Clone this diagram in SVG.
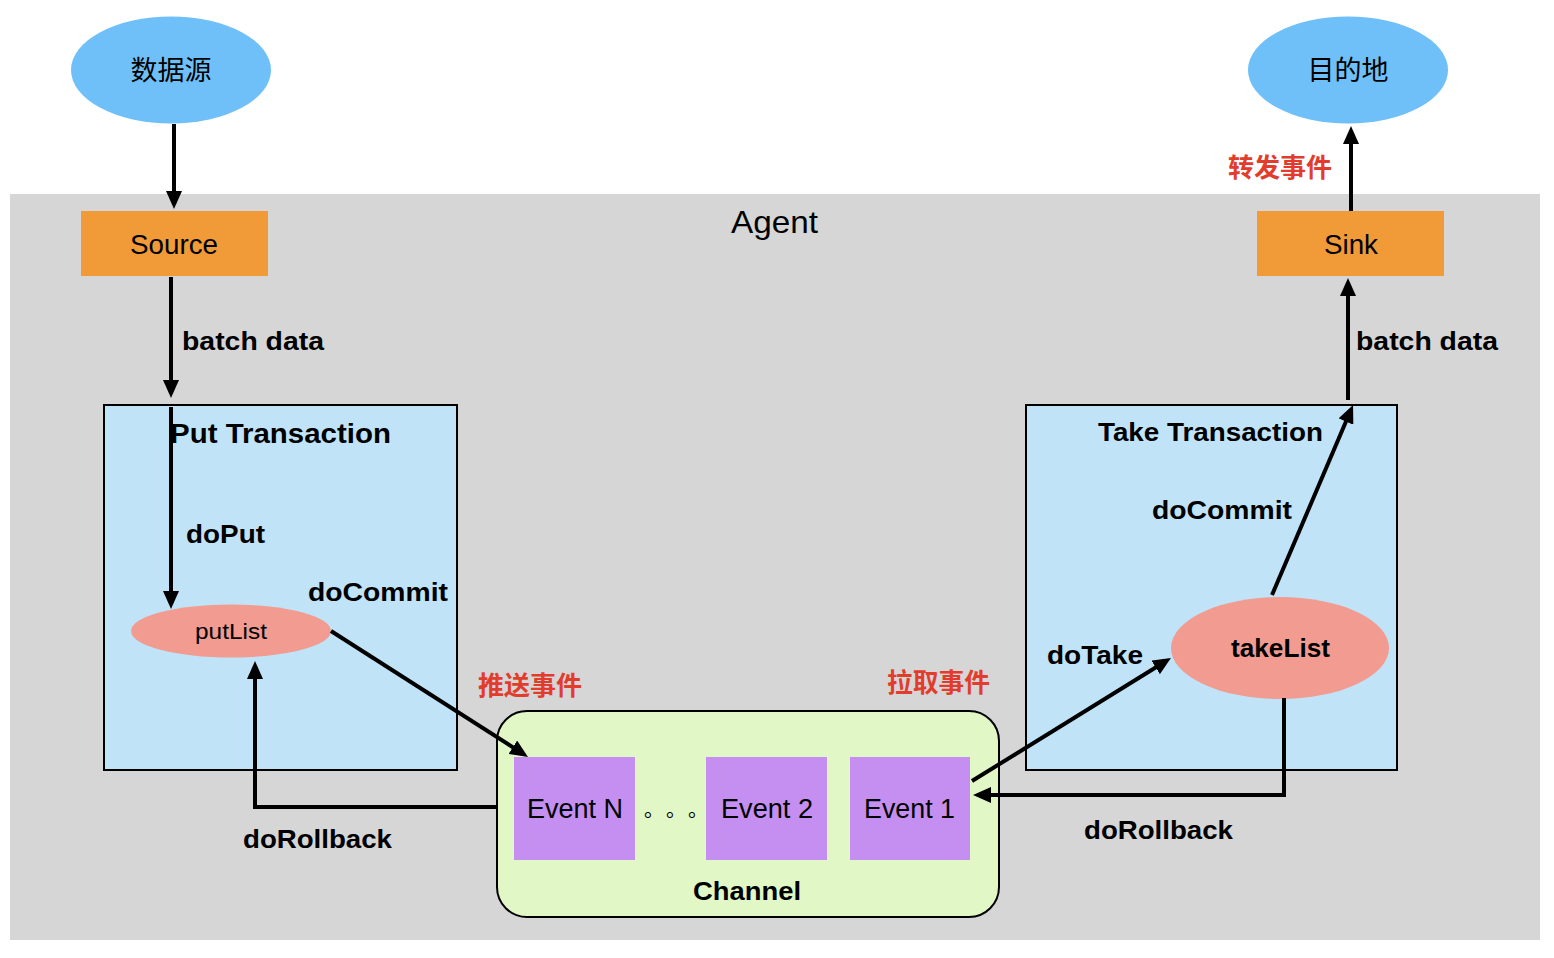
<svg xmlns="http://www.w3.org/2000/svg" width="1554" height="958" viewBox="0 0 1554 958">
<style>
text{font-family:"Liberation Sans",Arial,"Noto Sans CJK SC",sans-serif;fill:#000}
.b{font-weight:bold}
.red{fill:#e23d2c;font-weight:bold;font-family:"Noto Sans CJK SC",sans-serif}
.cjk{font-family:"Noto Sans CJK SC",sans-serif}
.ln{fill:none;stroke:#000;stroke-width:4}
.arr{marker-end:url(#ah)}
.orange{fill:#f19a38}
.tx{fill:#c0e3f8;stroke:#000;stroke-width:2}
.ev{fill:#c48ff0}
.sky{fill:#6fc0f9}
.salmon{fill:#f29b90}
</style>
<defs>
<marker id="ah" markerUnits="userSpaceOnUse" viewBox="0 0 18 16" refX="9" refY="8" markerWidth="18" markerHeight="16" orient="auto">
<path d="M0,0 L18,8 L0,16 z" fill="#000"/>
</marker>
</defs>
<rect x="0" y="0" width="1554" height="958" fill="#fff"/>
<rect id="agent-bg" x="10" y="194" width="1530" height="746" fill="#d6d6d6"/>
<text x="731" y="233" font-size="32" textLength="87" lengthAdjust="spacingAndGlyphs">Agent</text>

<g id="datasource"><ellipse cx="171" cy="70" rx="100" ry="53.5" class="sky"/><text x="171" y="80" font-size="27" text-anchor="middle" class="cjk">数据源</text></g>
<g id="destination"><ellipse cx="1348" cy="70" rx="100" ry="53.5" class="sky"/><text x="1348" y="80" font-size="27" text-anchor="middle" class="cjk">目的地</text></g>
<g id="source"><rect x="81" y="211" width="187" height="65" class="orange"/><text x="130" y="254" font-size="27" textLength="88" lengthAdjust="spacingAndGlyphs">Source</text></g>
<g id="sink"><rect x="1257" y="211" width="187" height="65" class="orange"/><text x="1324" y="254" font-size="27" textLength="54" lengthAdjust="spacingAndGlyphs">Sink</text></g>

<g id="put-transaction"><rect x="104" y="405" width="353" height="365" class="tx"/><text x="170" y="443" font-size="27" textLength="221" lengthAdjust="spacingAndGlyphs" class="b">Put Transaction</text></g>
<g id="take-transaction"><rect x="1026" y="405" width="371" height="365" class="tx"/><text x="1098" y="441" font-size="26" textLength="225" lengthAdjust="spacingAndGlyphs" class="b">Take Transaction</text></g>

<g id="channel"><rect x="497" y="711" width="502" height="206" rx="30" ry="30" fill="#e1f8c6" stroke="#000" stroke-width="2"/><text x="693" y="900" font-size="26" textLength="108" lengthAdjust="spacingAndGlyphs" class="b">Channel</text></g>
<g id="event-n"><rect x="514" y="757" width="121" height="103" class="ev"/><text x="527" y="818" font-size="27" textLength="96" lengthAdjust="spacingAndGlyphs">Event N</text></g>
<g id="dots"><text x="644" y="817" font-size="20" class="cjk">。</text><text x="666" y="817" font-size="20" class="cjk">。</text><text x="688" y="817" font-size="20" class="cjk">。</text></g>
<g id="event-2"><rect x="706" y="757" width="121" height="103" class="ev"/><text x="721" y="818" font-size="27" textLength="92" lengthAdjust="spacingAndGlyphs">Event 2</text></g>
<g id="event-1"><rect x="850" y="757" width="120" height="103" class="ev"/><text x="864" y="818" font-size="27" textLength="91" lengthAdjust="spacingAndGlyphs">Event 1</text></g>

<g id="putlist"><ellipse cx="231" cy="631" rx="100" ry="26.5" class="salmon"/><text x="195" y="639" font-size="22" textLength="72" lengthAdjust="spacingAndGlyphs">putList</text></g>
<g id="takelist"><ellipse cx="1280" cy="648" rx="109" ry="51" class="salmon"/><text x="1231" y="657" font-size="25" textLength="99" lengthAdjust="spacingAndGlyphs" class="b">takeList</text></g>

<g id="connectors">
<path class="ln arr" d="M174,124 L174,200"/>
<path class="ln arr" d="M171,277 L171,389"/>
<path class="ln arr" d="M171,407 L171,600"/>
<path class="ln arr" d="M331,631 L520.4,752.1"/>
<path class="ln arr" d="M497,807 L255,807 L255,670"/>
<path class="ln arr" d="M972,781 L1163.3,662.7"/>
<path class="ln arr" d="M1272,595 L1349.5,413.3"/>
<path class="ln arr" d="M1348,400 L1348,287"/>
<path class="ln arr" d="M1351,211 L1351,135"/>
<path class="ln arr" d="M1284,698 L1284,795 L982,795"/>
</g>

<g id="labels">
<text x="182" y="350" font-size="26" textLength="142" lengthAdjust="spacingAndGlyphs" class="b">batch data</text>
<text x="1356" y="350" font-size="26" textLength="142" lengthAdjust="spacingAndGlyphs" class="b">batch data</text>
<text x="186" y="543" font-size="26" textLength="79" lengthAdjust="spacingAndGlyphs" class="b">doPut</text>
<text x="308" y="601" font-size="26" textLength="140" lengthAdjust="spacingAndGlyphs" class="b">doCommit</text>
<text x="1152" y="519" font-size="26" textLength="140" lengthAdjust="spacingAndGlyphs" class="b">doCommit</text>
<text x="1047" y="664" font-size="26" textLength="96" lengthAdjust="spacingAndGlyphs" class="b">doTake</text>
<text x="243" y="848" font-size="26" textLength="149" lengthAdjust="spacingAndGlyphs" class="b">doRollback</text>
<text x="1084" y="839" font-size="26" textLength="149" lengthAdjust="spacingAndGlyphs" class="b">doRollback</text>
<text x="1228" y="177" font-size="26" textLength="104" lengthAdjust="spacingAndGlyphs" class="red">转发事件</text>
<text x="478" y="695" font-size="26" textLength="104" lengthAdjust="spacingAndGlyphs" class="red">推送事件</text>
<text x="887" y="692" font-size="26" textLength="103" lengthAdjust="spacingAndGlyphs" class="red">拉取事件</text>
</g>
</svg>
